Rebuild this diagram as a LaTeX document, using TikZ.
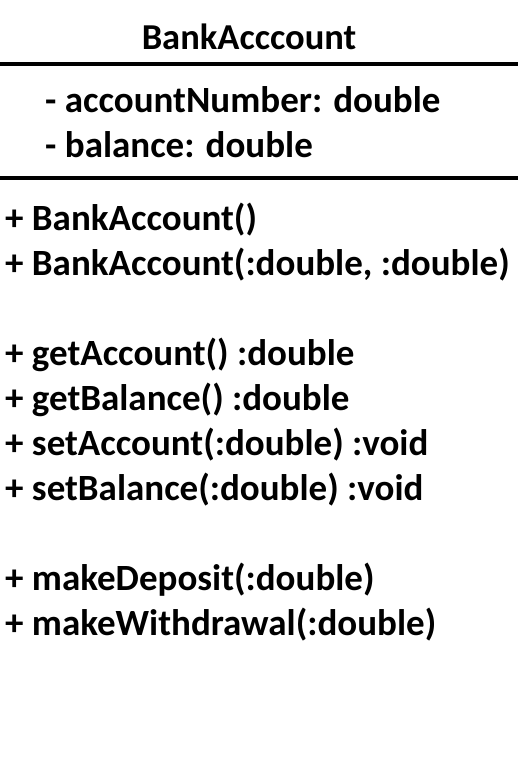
\documentclass[tikz,border=0pt]{standalone}
\usepackage{fontspec}
\setmainfont{Carlito}
\usetikzlibrary{positioning}

\begin{document}
\begin{tikzpicture}[
            x=1pt, y=-1pt,
            member/.style={anchor=base west, inner sep=0pt, font=\fontsize{37}{44}\selectfont\bfseries},
            title/.style={anchor=base, inner sep=0pt, font=\fontsize{36.5}{44}\selectfont\bfseries},
            rule/.style={line width=4.5pt}
        ]
            \useasboundingbox (0,0) rectangle (518,777);
            \node[title] (name) at (249,49) {BankAcccount};
            \draw[rule] (0,64) -- (518,64);

            \node[member] (acc) at (45,112) {- accountNumber: double};
            \node[member] (bal) at (45,157) {- balance: double};
            \draw[rule] (0,178) -- (518,178);

            \node[member] (ctor1) at (5,230) {+ BankAccount()};
            \node[member] (ctor2) at (5,275) {+ BankAccount(:double, :double)};
            \node[member] (getacc) at (5,365) {+ getAccount() :double};
            \node[member] (getbal) at (5,410) {+ getBalance() :double};
            \node[member] (setacc) at (5,455) {+ setAccount(:double) :void};
            \node[member] (setbal) at (5,500) {+ setBalance(:double) :void};
            \node[member] (deposit) at (5,590) {+ makeDeposit(:double)};
            \node[member] (withdraw) at (5,635) {+ makeWithdrawal(:double)};
        \end{tikzpicture}
\end{document}
